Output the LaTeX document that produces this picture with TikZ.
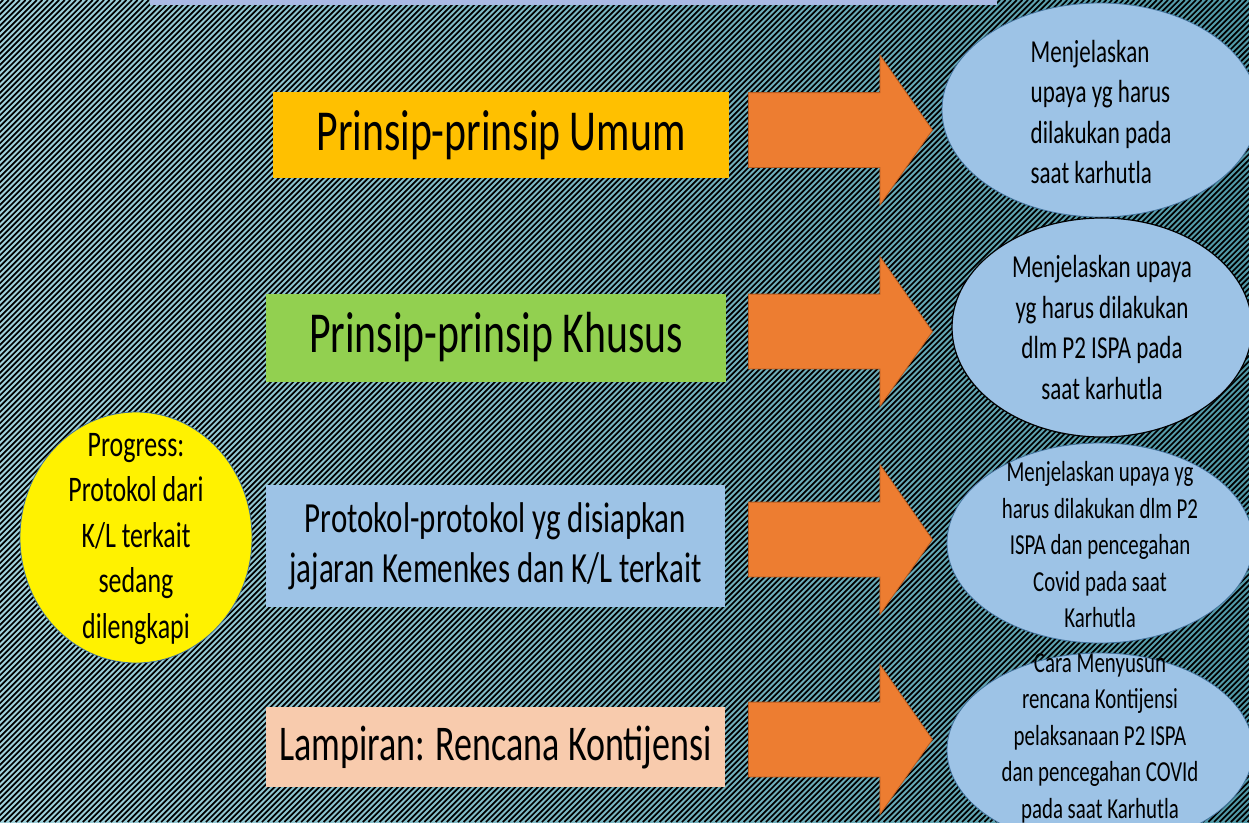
\documentclass[tikz,border=0pt]{standalone}
\usepackage{fontspec}
\setmainfont{Carlito}[FakeStretch=0.72]
\usepackage{tikz}
\usetikzlibrary{shapes.geometric,shapes.arrows}
\definecolor{bgleft}{RGB}{160,210,220}
\definecolor{bgright}{RGB}{80,152,166}
\definecolor{topbar}{RGB}{169,185,228}
\definecolor{boxgold}{RGB}{255,192,0}
\definecolor{boxgreen}{RGB}{146,208,80}
\definecolor{boxblue}{RGB}{157,195,230}
\definecolor{boxpeach}{RGB}{248,203,173}
\definecolor{arrorange}{RGB}{237,125,49}
\definecolor{arredge}{RGB}{185,92,32}
\definecolor{elledge}{RGB}{65,113,156}

\begin{document}
\begin{tikzpicture}[x=1pt,y=-1pt,
  stripe/.style={line width=1.7pt,black},
  box/.style={inner sep=0pt,align=center},
  bigtext/.style={font=\fontsize{58}{70}\selectfont},
  fatarrow/.style={single arrow,fill=arrorange,draw=arredge,line width=0.8pt,
    inner xsep=0pt,inner ysep=37pt,minimum height=184pt,minimum width=149pt,
    single arrow head extend=37.5pt,single arrow tip angle=110,anchor=tail},
  bubble/.style={ellipse,fill=boxblue,draw=elledge,line width=0.8pt,inner sep=0pt},
  bubbletext/.style={inner sep=0pt,align=center,font=\fontsize{32}{40.5}\selectfont},
  smallbubbletext/.style={bubbletext,font=\fontsize{29}{36.5}\selectfont}
]
  \useasboundingbox (0,0) rectangle (1249,822);
  \clip (0,0) rectangle (1249,822);
  % background
  \shade[left color=bgleft,right color=bgright] (0,0) rectangle (1249,822);
  \foreach \s in {-830,-824.4,...,1260}
    \draw[stripe] (\s,822) -- ++(822,-822);
  \fill[topbar] (150,0) rectangle (997,4.5);

  \node[box,fill=boxgold,minimum width=456pt,minimum height=86pt,bigtext] (umum) at (501,135)
    {Prinsip-prinsip Umum};
  \node[box,fill=boxgreen,minimum width=460pt,minimum height=88pt,bigtext] (khusus) at (496,337.5)
    {Prinsip-prinsip Khusus};
  \node[box,fill=boxblue,minimum width=459pt,minimum height=122pt,
    font=\fontsize{43}{50}\selectfont] (protokol) at (495.5,546)
    {Protokol-protokol yg disiapkan\\jajaran Kemenkes dan K/L terkait};
  \node[box,fill=boxpeach,minimum width=459pt,minimum height=80pt,
    font=\fontsize{50}{60}\selectfont] (lampiran) at (495.5,747)
    {Lampiran: Rencana Kontijensi};

  \node[ellipse,fill=yellow,draw=elledge,line width=0.8pt,inner sep=0pt,
    minimum width=232pt,minimum height=251pt] (progress) at (136,537.5) {};
  \node[box,font=\fontsize{36}{45.5}\selectfont] (progresstext) at (136,539)
    {Progress:\\Protokol dari\\K/L terkait\\sedang\\dilengkapi};

  \node[fatarrow] (arrumum) at (748,130) {};
  \node[fatarrow] (arrkhusus) at (748,331.5) {};
  \node[fatarrow] (arrprotokol) at (748,539.5) {};
  \node[fatarrow] (arrlampiran) at (748,739.5) {};

  \node[bubble,minimum width=316pt,minimum height=214pt] (effumum) at (1100,110) {};
  \node[bubble,draw=black,line width=1.2pt,minimum width=300pt,minimum height=219pt]
    (effkhusus) at (1102,327.5) {};
  \node[bubble,minimum width=306pt,minimum height=200pt] (effprotokol) at (1100,543) {};
  \node[bubble,minimum width=306pt,minimum height=194pt] (efflampiran) at (1100,750) {};

  \node[bubbletext,align=left] (effumumtext) at (1101,112)
    {Menjelaskan\\upaya yg harus\\dilakukan pada\\saat karhutla};
  \node[bubbletext] (effkhusustext) at (effkhusus)
    {Menjelaskan upaya\\yg harus dilakukan\\dlm P2 ISPA pada\\saat karhutla};
  \node[smallbubbletext] (effprotokoltext) at (1100,545)
    {Menjelaskan upaya yg\\harus dilakukan dlm P2\\ISPA dan pencegahan\\Covid pada saat\\Karhutla};
  \node[smallbubbletext] (efflampirantext) at (1100,738)
    {Cara Menyusun\\rencana Kontijensi\\pelaksanaan P2 ISPA\\dan pencegahan COVId\\pada saat Karhutla};
\end{tikzpicture}
\end{document}
